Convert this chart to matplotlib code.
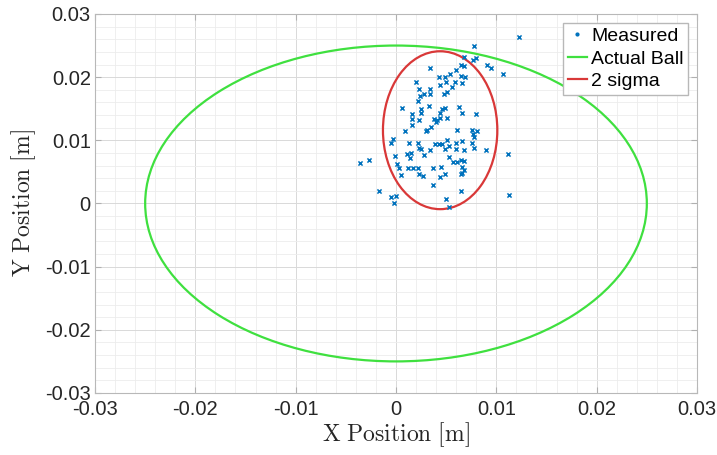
import numpy as np
import matplotlib
matplotlib.use("Agg")
import matplotlib.pyplot as plt
from matplotlib.patches import Ellipse, Circle
from matplotlib.lines import Line2D
from matplotlib.ticker import MultipleLocator, FuncFormatter

plt.rcParams["font.family"] = ["Liberation Sans", "DejaVu Sans"]
plt.rcParams["mathtext.fontset"] = "cm"
plt.rcParams["axes.unicode_minus"] = False

# posicoes medidas da bola [m]
meas_x = [0.0123, 0.0078, 0.0068, 0.0077, 0.0080, 0.0091, 0.0095, 0.0107, 0.0065, 0.0068,
          0.0034, 0.0060, 0.0054, 0.0049, 0.0043, 0.0065, 0.0069, 0.0050, 0.0059, 0.0044,
          0.0066, 0.0020, 0.0056, 0.0023, 0.0034, 0.0051, 0.0048, 0.0028, 0.0034, 0.0024,
          0.0022, 0.0033, 0.0006, 0.0025, 0.0025, 0.0046, 0.0049, 0.0063, 0.0066, 0.0044,
          0.0016, 0.0080, 0.0044, 0.0051, 0.0038, 0.0041, 0.0016, 0.0023, 0.0040, 0.0016,
          0.0035, 0.0031, 0.0030, 0.0009, 0.0061, 0.0076, 0.0081, 0.0077, 0.0078, -0.0003,
          -0.0005, 0.0051, 0.0066, 0.0013, 0.0022, 0.0060, 0.0039, 0.0043, 0.0046, 0.0053,
          0.0076, 0.0023, 0.0025, 0.0078, 0.0049, 0.0060, 0.0068, 0.0090, 0.0034, 0.0015,
          0.0112, 0.0011, 0.0028, -0.0001, 0.0014, 0.0053, -0.0027, -0.0036, 0.0065, 0.0068,
          0.0057, 0.0061, 0.0001, 0.0003, 0.0012, 0.0017, 0.0022, 0.0037, 0.0045, 0.0066,
          0.0068, 0.0066, 0.0005, 0.0023, 0.0027, 0.0044, 0.0049, 0.0065, 0.0037, -0.0017,
          0.0065, 0.0113, -0.0005, 0.0000, -0.0002, 0.0050, 0.0053]
meas_y = [0.0263, 0.0249, 0.0232, 0.0227, 0.0231, 0.0220, 0.0214, 0.0205, 0.0220, 0.0217,
          0.0214, 0.0212, 0.0205, 0.0200, 0.0200, 0.0202, 0.0200, 0.0192, 0.0192, 0.0187,
          0.0190, 0.0192, 0.0184, 0.0181, 0.0181, 0.0177, 0.0174, 0.0173, 0.0173, 0.0170,
          0.0163, 0.0155, 0.0151, 0.0149, 0.0144, 0.0150, 0.0151, 0.0152, 0.0143, 0.0144,
          0.0142, 0.0142, 0.0136, 0.0135, 0.0133, 0.0132, 0.0133, 0.0132, 0.0129, 0.0124,
          0.0121, 0.0116, 0.0114, 0.0114, 0.0116, 0.0116, 0.0114, 0.0110, 0.0106, 0.0102,
          0.0095, 0.0101, 0.0099, 0.0095, 0.0096, 0.0095, 0.0094, 0.0094, 0.0094, 0.0091,
          0.0095, 0.0088, 0.0086, 0.0088, 0.0086, 0.0086, 0.0085, 0.0084, 0.0084, 0.0080,
          0.0079, 0.0078, 0.0077, 0.0075, 0.0072, 0.0074, 0.0069, 0.0064, 0.0069, 0.0068,
          0.0065, 0.0065, 0.0062, 0.0056, 0.0056, 0.0056, 0.0056, 0.0056, 0.0057, 0.0058,
          0.0053, 0.0049, 0.0045, 0.0047, 0.0043, 0.0042, 0.0047, 0.0046, 0.0029, 0.0019,
          0.0020, 0.0014, 0.0010, 0.0012, 0.0000, 0.0007, -0.0005]

# bola real: centro na origem
ball_center = (0.0, 0.0)
ball_radius = 0.025

# elipse de 2 sigma
sig_center = (0.0044, 0.0116)
sig_x = 0.00285
sig_y = 0.00625
n_sigma = 2

ticks = [-0.03, -0.02, -0.01, 0.0, 0.01, 0.02, 0.03]

COR_MED = "#0072BD"
COR_BOLA = "#3fe03f"
COR_SIG = "#d93838"

fig = plt.figure(figsize=(7.17, 4.55), dpi=100)
ax = fig.add_axes([0.1325, 0.1363, 0.8396, 0.8330])

ax.scatter(meas_x, meas_y, marker="x", s=9, linewidths=1.1, color=COR_MED, zorder=3)
ax.add_patch(Circle(ball_center, ball_radius, fill=False, edgecolor=COR_BOLA,
                    linewidth=1.6, zorder=2))
ax.add_patch(Ellipse(sig_center, 2 * n_sigma * sig_x, 2 * n_sigma * sig_y, fill=False,
                     edgecolor=COR_SIG, linewidth=1.6, zorder=2))

ax.set_xlim(ticks[0], ticks[-1])
ax.set_ylim(ticks[0], ticks[-1])
ax.set_xticks(ticks)
ax.set_yticks(ticks)
fmt = FuncFormatter(lambda v, p: "0" if abs(v) < 1e-12 else f"{v:.2f}")
ax.xaxis.set_major_formatter(fmt)
ax.yaxis.set_major_formatter(fmt)
ax.xaxis.set_minor_locator(MultipleLocator(0.002))
ax.yaxis.set_minor_locator(MultipleLocator(0.002))
ax.grid(True, which="major", color="#d9d9d9", linewidth=0.7)
ax.grid(True, which="minor", color="#ececec", linewidth=0.6)
ax.set_axisbelow(True)
ax.tick_params(which="both", direction="in", length=4, color="#b0b0b0",
               labelsize=14.5, labelcolor="#262626", top=True, right=True)
ax.tick_params(which="minor", length=0)
ax.tick_params(axis="x", pad=5)
ax.tick_params(axis="y", pad=3)
for s in ax.spines.values():
    s.set_edgecolor("#b8b8b8")
    s.set_linewidth(0.8)

ax.set_xlabel(r"$\mathrm{X\ Position\ [m]}$", fontsize=17, color="#262626", labelpad=1)
ax.set_ylabel(r"$\mathrm{Y\ Position\ [m]}$", fontsize=17, color="#262626", labelpad=5)

handles = [
    Line2D([], [], linestyle="none", marker=".", markersize=4, color=COR_MED),
    Line2D([], [], color=COR_BOLA, linewidth=1.6),
    Line2D([], [], color=COR_SIG, linewidth=1.6),
]
ax.legend(handles, ["Measured", "Actual Ball", "2 sigma"], loc="upper right",
          fontsize=14, handlelength=1.0, handletextpad=0.2, borderpad=0.25,
          labelspacing=0.25, borderaxespad=0.45, fancybox=False,
          framealpha=1, edgecolor="#b8b8b8")

fig.savefig("out.png", dpi=100)
